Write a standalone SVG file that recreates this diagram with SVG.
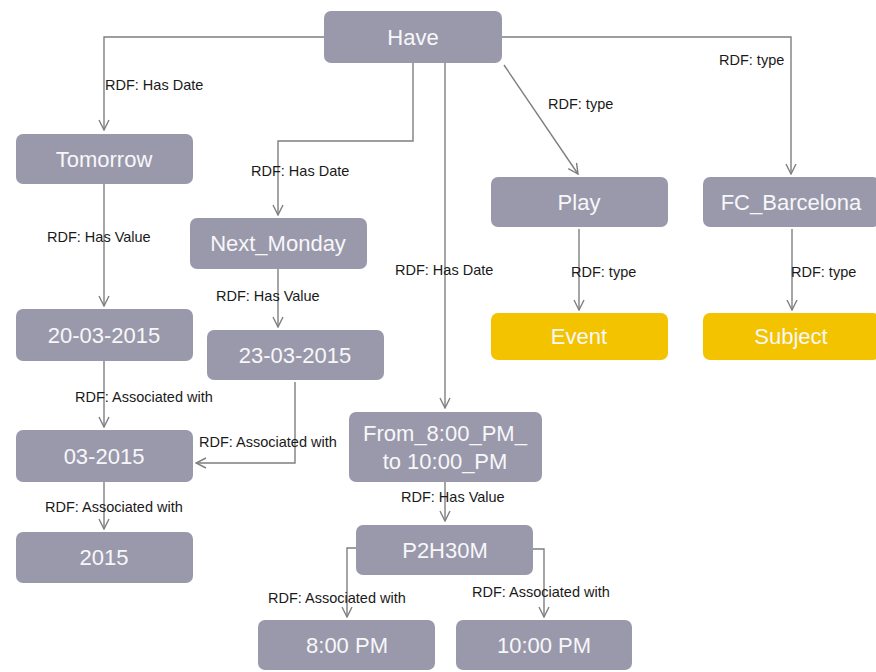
<svg xmlns="http://www.w3.org/2000/svg" width="876" height="672" viewBox="0 0 876 672">
  <defs>
    <marker id="arrow" viewBox="0 0 12 12" refX="11" refY="6" markerWidth="12" markerHeight="12" markerUnits="userSpaceOnUse" orient="auto">
      <path d="M1,1 L11,6 L1,11" fill="none" stroke="#7f7f7f" stroke-width="1.4"/>
    </marker>
    <style>
      .box { fill: #9a99ab; }
      .cls { fill: #f3c300; }
      .nt { font-family: "Liberation Sans", Arial, sans-serif; font-size: 22px; fill: #f7f7fa; text-anchor: middle; }
      .lbl { font-family: "Liberation Sans", Arial, sans-serif; font-size: 14.5px; fill: #1a1a1a; }
      .edge { fill: none; stroke: #7f7f7f; stroke-width: 1.4; marker-end: url(#arrow); }
    </style>
  </defs>
  <rect width="876" height="672" fill="#ffffff"/>

  <g id="connectors">
    <path class="edge" d="M324,37 H104 V130"/>
    <path class="edge" d="M413,63 V141 H278 V215"/>
    <path class="edge" d="M445,63 V408"/>
    <path class="edge" d="M504,65 L578,174"/>
    <path class="edge" d="M502,37 H791 V174"/>
    <path class="edge" d="M104,184 V306"/>
    <path class="edge" d="M278,269 V327"/>
    <path class="edge" d="M104,361 V427"/>
    <path class="edge" d="M295,382 V463 H196"/>
    <path class="edge" d="M104,482 V529"/>
    <path class="edge" d="M579,229 V310"/>
    <path class="edge" d="M792,229 V310"/>
    <path class="edge" d="M445,482 V521"/>
    <path class="edge" d="M356,548 H347 V617"/>
    <path class="edge" d="M533,549 H544 V617"/>

    <text class="lbl" x="105" y="90">RDF: Has Date</text>
    <text class="lbl" x="251" y="176">RDF: Has Date</text>
    <text class="lbl" x="395" y="275">RDF: Has Date</text>
    <text class="lbl" x="548" y="109">RDF: type</text>
    <text class="lbl" x="719" y="65">RDF: type</text>
    <text class="lbl" x="47" y="242">RDF: Has Value</text>
    <text class="lbl" x="216" y="301">RDF: Has Value</text>
    <text class="lbl" x="75" y="402">RDF: Associated with</text>
    <text class="lbl" x="199" y="447">RDF: Associated with</text>
    <text class="lbl" x="45" y="512">RDF: Associated with</text>
    <text class="lbl" x="571" y="277">RDF: type</text>
    <text class="lbl" x="791" y="277">RDF: type</text>
    <text class="lbl" x="401" y="502">RDF: Has Value</text>
    <text class="lbl" x="268" y="603">RDF: Associated with</text>
    <text class="lbl" x="472" y="597">RDF: Associated with</text>
  </g>

  <g id="have"><rect class="box" x="324" y="11" width="178" height="52" rx="7"/><text class="nt" x="413" y="45">Have</text></g>
  <g id="tomorrow"><rect class="box" x="16" y="134" width="177" height="50" rx="7"/><text class="nt" x="104" y="167">Tomorrow</text></g>
  <g id="next_monday"><rect class="box" x="190" y="218" width="177" height="51" rx="7"/><text class="nt" x="278" y="251">Next_Monday</text></g>
  <g id="play"><rect class="box" x="491" y="177" width="177" height="50" rx="7"/><text class="nt" x="579" y="210">Play</text></g>
  <g id="fc_barcelona"><rect class="box" x="703" y="177" width="177" height="50" rx="7"/><text class="nt" x="791" y="210">FC_Barcelona</text></g>
  <g id="event"><rect class="cls" x="491" y="313" width="177" height="47" rx="7"/><text class="nt" x="579" y="344">Event</text></g>
  <g id="subject"><rect class="cls" x="703" y="313" width="177" height="47" rx="7"/><text class="nt" x="791" y="344">Subject</text></g>
  <g id="d20_03_2015"><rect class="box" x="16" y="309" width="177" height="52" rx="7"/><text class="nt" x="104" y="343">20-03-2015</text></g>
  <g id="d23_03_2015"><rect class="box" x="207" y="330" width="177" height="50" rx="7"/><text class="nt" x="295" y="363">23-03-2015</text></g>
  <g id="m03_2015"><rect class="box" x="16" y="430" width="177" height="52" rx="7"/><text class="nt" x="104" y="464">03-2015</text></g>
  <g id="y2015"><rect class="box" x="16" y="532" width="177" height="51" rx="7"/><text class="nt" x="104" y="565">2015</text></g>
  <g id="from_to"><rect class="box" x="349" y="412" width="193" height="70" rx="7"/><text class="nt" x="445" y="441">From_8:00_PM_</text><text class="nt" x="445" y="469">to 10:00_PM</text></g>
  <g id="p2h30m"><rect class="box" x="356" y="525" width="177" height="50" rx="7"/><text class="nt" x="445" y="558">P2H30M</text></g>
  <g id="pm8"><rect class="box" x="258" y="620" width="177" height="50" rx="7"/><text class="nt" x="347" y="653">8:00 PM</text></g>
  <g id="pm10"><rect class="box" x="456" y="620" width="176" height="50" rx="7"/><text class="nt" x="544" y="653">10:00 PM</text></g>
</svg>
